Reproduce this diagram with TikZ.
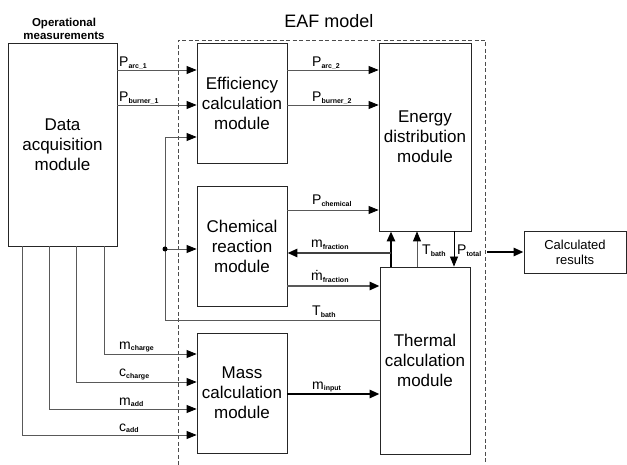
\documentclass[tikz,border=0pt]{standalone}
\usepackage{fontspec}
\setmainfont{Liberation Sans}
\usetikzlibrary{positioning,arrows.meta}
\tikzset{
  module/.style={draw=black!85, line width=0.8pt, align=center, inner sep=0pt,
    font=\fontsize{17}{20}\selectfont},
  sig/.style={draw=black!65, line width=0.8pt, -{Triangle[length=10pt,width=8pt,color=black]}},
  heavy/.style={sig, line width=2.6pt},
  frame/.style={draw=black!70, line width=0.8pt, dash pattern=on 4pt off 2.5pt},
  lbl/.style={inner sep=0pt, anchor=base west, font=\fontsize{14}{16}\selectfont}
}
\newcommand{\slab}[2]{#1\raisebox{-1.8pt}{\fontsize{7}{8}\selectfont\bfseries #2}}

\begin{document}
\begin{tikzpicture}[x=1pt,y=-1pt]
  \useasboundingbox (0,0) rectangle (627,465);

  % EAF model frame
  \draw[frame] (178,465) -- (178,40) -- (485,40) -- (485,465);
  \node (EAF) [anchor=base, font=\fontsize{18}{20}\selectfont] at (329,28) {EAF model};
  \node (Meas) [align=center, font=\fontsize{11.5}{13}\selectfont\bfseries] at (64,29) {Operational\\measurements};

  \node (Data) [module, minimum width=109pt, minimum height=203pt] at (62.5,144.5) {Data\\acquisition\\module};
  \node (Eff) [module, minimum width=90pt, minimum height=120pt] at (242,103) {Efficiency\\calculation\\module};
  \node (Chem) [module, minimum width=90pt, minimum height=120pt] at (242,246) {Chemical\\reaction\\module};
  \node (Mass) [module, minimum width=90pt, minimum height=120pt] at (242,393) {Mass\\calculation\\module};
  \node (Energy) [module, minimum width=92pt, minimum height=188pt] at (425,137) {Energy\\distribution\\module};
  \node (Thermal) [module, minimum width=90pt, minimum height=187pt] at (425,360.5) {Thermal\\calculation\\module};
  \node (Res) [module, font=\fontsize{13}{15}\selectfont, minimum width=102pt, minimum height=42pt] at (575,252) {Calculated\\results};

  % power signals
  \draw[sig] (Data.east |- 0,70) -- (Eff.west |- 0,70);
  \draw[sig] (Data.east |- 0,105) -- (Eff.west |- 0,105);
  \draw[sig] (Eff.east |- 0,70) -- (Energy.west |- 0,70);
  \draw[sig] (Eff.east |- 0,105) -- (Energy.west |- 0,105);
  \draw[sig] (Chem.east |- 0,210) -- (Energy.west |- 0,210);

  % bath temperature feedback
  \coordinate (J) at (165,249);
  \draw[sig] (Thermal.west |- 0,320) -- (165,320) -- (165,137) -- (Eff.west |- 0,137);
  \draw[sig] (J) -- (Chem.west |- J);
  \fill (J) circle (2.5pt);

  % mass fractions
  \draw[heavy, draw=black] (Thermal.north -| 391,0) -- (Energy.south -| 391,0);
  \draw[heavy, draw=black!75] (391,253) -- (Chem.east |- 0,253);
  \draw[heavy, draw=black!65] (Chem.east |- 0,286) -- (Thermal.west |- 0,286);
  \draw[sig] (Thermal.north -| 417,0) -- (Energy.south -| 417,0);
  \draw[sig, draw=black] (Energy.south -| 454,0) -- (Thermal.north -| 454,0);

  \coordinate (Out) at (487,252);
  \draw[heavy, draw=black] (Out) -- (Res.west);

  % mass inputs
  \foreach \x/\y in {104/354, 76/382, 49/409, 22/435}
    \draw[sig] (Data.south -| \x,0) |- (Mass.west |- 0,\y);
  \draw[heavy, draw=black] (Mass.east |- 0,394) -- (Thermal.west |- 0,394);

  % labels
  \node (Parc1) [lbl] at (119,67) {\slab{P}{arc\_1}};
  \node (Pburn1) [lbl] at (119,102) {\slab{P}{burner\_1}};
  \node (Parc2) [lbl] at (312,67) {\slab{P}{arc\_2}};
  \node (Pburn2) [lbl] at (312,102) {\slab{P}{burner\_2}};
  \node (Pchem) [lbl] at (312,205) {\slab{P}{chemical}};
  \node (mfrac) [lbl] at (311,248) {\slab{m}{fraction}};
  \node (mdfrac) [lbl] at (311,281) {\slab{ṁ}{fraction}};
  \node (Tbath1) [lbl] at (312,316) {\slab{T}{bath}};
  \node (mcharge) [lbl] at (119,349) {\slab{m}{charge}};
  \node (ccharge) [lbl] at (119,377) {\slab{c}{charge}};
  \node (madd) [lbl] at (119,405) {\slab{m}{add}};
  \node (cadd) [lbl] at (119,431) {\slab{c}{add}};
  \node (minput) [lbl] at (312,389) {\slab{m}{input}};
  \node (Tbath2) [lbl] at (422,255) {\slab{T}{bath}};
  \node (Ptotal) [lbl] at (457,255) {\slab{P}{total}};
\end{tikzpicture}
\end{document}
